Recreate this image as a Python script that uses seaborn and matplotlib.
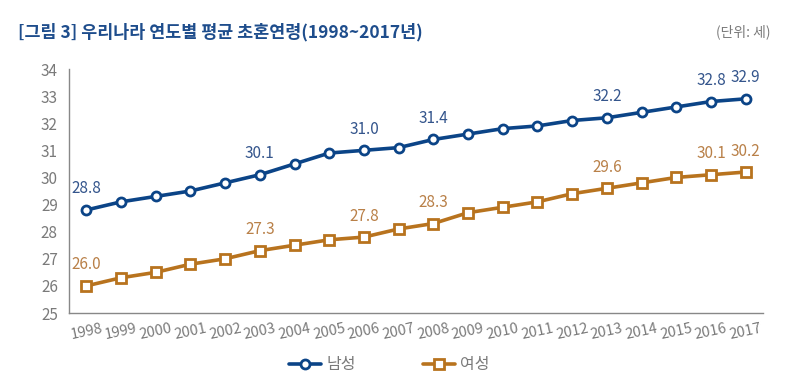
import matplotlib
matplotlib.use("Agg")
import matplotlib.pyplot as plt
import numpy as np
import pandas as pd
import seaborn as sns

years = [str(y) for y in range(1998, 2018)]
male = [28.8, 29.1, 29.3, 29.5, 29.8, 30.1, 30.5, 30.9, 31.0, 31.1,
        31.4, 31.6, 31.8, 31.9, 32.1, 32.2, 32.4, 32.6, 32.8, 32.9]
female = [26.0, 26.3, 26.5, 26.8, 27.0, 27.3, 27.5, 27.7, 27.8, 28.1,
          28.3, 28.7, 28.9, 29.1, 29.4, 29.6, 29.8, 30.0, 30.1, 30.2]
labeled_years = ["1998", "2003", "2006", "2008", "2013", "2016", "2017"]
series_names = ["남성", "여성"]

navy = "#0b4487"
brown = "#b8731e"
navy_txt = "#34558c"
brown_txt = "#b98048"
grey = "#7a7a7a"


def main():
    sns.set_style("white")
    plt.rcParams["font.family"] = ["Noto Sans CJK KR", "DejaVu Sans"]

    df = pd.DataFrame({
        "idx": list(range(len(years))) * 2,
        "year": years * 2,
        "age": male + female,
        "sex": [series_names[0]] * len(years) + [series_names[1]] * len(years),
    })

    fig = plt.figure(figsize=(7.88, 3.76), dpi=100)
    ax = fig.add_axes([69 / 788, 1 - 313 / 376, (763 - 69) / 788, (313 - 69) / 376])

    sns.lineplot(
        data=df, x="idx", y="age", hue="sex", style="sex",
        hue_order=series_names, palette=[navy, brown],
        markers={"남성": "o", "여성": "s"}, dashes=False,
        linewidth=2.6, markersize=6.5, markerfacecolor="white",
        markeredgewidth=2.0, ax=ax, legend=False,
    )
    for line, c in zip(ax.get_lines(), [navy, brown]):
        line.set_markeredgecolor(c)

    for vals, col in [(male, navy_txt), (female, brown_txt)]:
        for i, (y, v) in enumerate(zip(years, vals)):
            if y in labeled_years:
                ax.annotate(f"{v:.1f}", (i, v), xytext=(0, 9),
                            textcoords="offset points", ha="center",
                            va="bottom", fontsize=11, color=col)

    ax.set_xlim(-0.5, len(years) - 0.5)
    ax.set_ylim(25, 34)
    ax.set_yticks(np.arange(25, 35, 1))
    ax.set_xticks(np.arange(-0.5, len(years), 1))
    ax.set_xticklabels([])
    ax.set_xticks(np.arange(len(years)), minor=True)
    ax.set_xticklabels(years, minor=True, rotation=12, color=grey, fontsize=10.5)
    ax.tick_params(axis="x", which="minor", length=0, pad=6)
    ax.tick_params(axis="x", which="major", length=5, width=1, color="#888888", direction="out")
    ax.tick_params(axis="y", length=4, width=1, color="#888888", labelcolor=grey,
                   labelsize=11, direction="out", pad=4)
    ax.set_xlabel("")
    ax.set_ylabel("")
    for s in ["top", "right"]:
        ax.spines[s].set_visible(False)
    for s in ["left", "bottom"]:
        ax.spines[s].set_color("#888888")
        ax.spines[s].set_linewidth(1)

    handles = [
        plt.Line2D([], [], color=navy, lw=2.6, marker="o", markersize=6.5,
                   markerfacecolor="white", markeredgecolor=navy, markeredgewidth=2),
        plt.Line2D([], [], color=brown, lw=2.6, marker="s", markersize=6.5,
                   markerfacecolor="white", markeredgecolor=brown, markeredgewidth=2),
    ]
    fig.legend(handles, series_names, loc="center", bbox_to_anchor=(0.494, 0.03),
               ncol=2, frameon=False, fontsize=11.5, handlelength=2.0,
               handletextpad=0.3, columnspacing=4.2, labelcolor=grey)

    fig.text(18 / 788, 1 - 32 / 376, "[그림 3] 우리나라 연도별 평균 초혼연령(1998~2017년)",
             fontsize=12.5, color="#1e4d8c", fontweight="bold", va="center", ha="left")
    fig.text(770 / 788, 1 - 32 / 376, "(단위: 세)", fontsize=10, color=grey,
             va="center", ha="right")

    plt.savefig("out.png", dpi=100)


if __name__ == "__main__":
    main()
